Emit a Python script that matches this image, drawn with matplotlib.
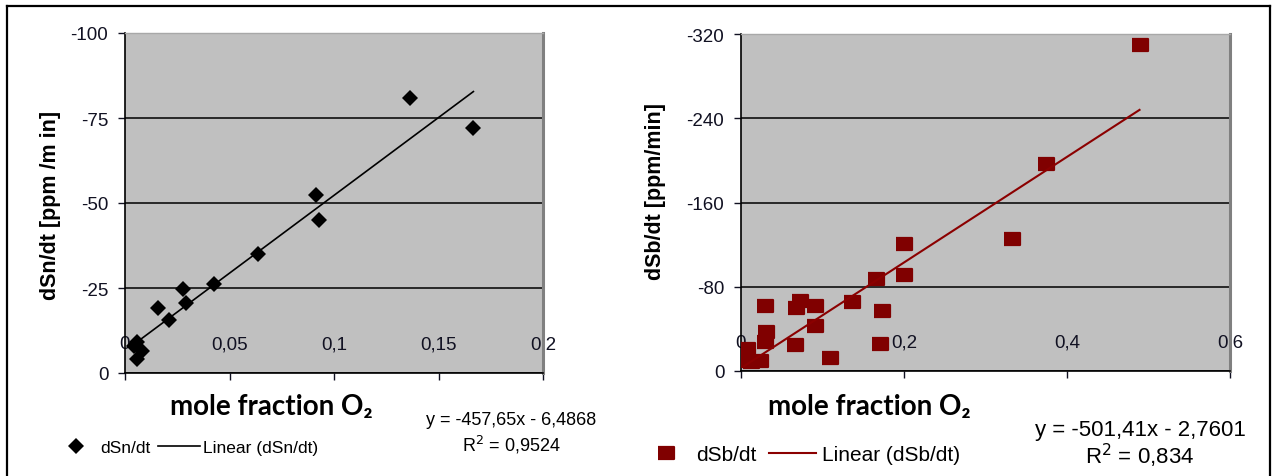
import matplotlib
matplotlib.use("Agg")
import matplotlib.pyplot as plt
from matplotlib.lines import Line2D
from matplotlib.markers import MarkerStyle
import numpy as np

# --- data ---
x_sn = [0.0045, 0.0056, 0.0080, 0.0056, 0.0159, 0.0211, 0.0276, 0.0292,
        0.0426, 0.0638, 0.0914, 0.0928, 0.1364, 0.1667]
y_sn = [-8.0, -9.0, -6.6, -4.1, -19.0, -15.5, -24.7, -20.5,
        -26.2, -35.0, -52.4, -45.0, -80.8, -72.1]
sn_slope, sn_icpt = -457.65, -6.4868
sn_yticks = [0, -25, -50, -75, -100]
sn_xticks = [0, 0.05, 0.1, 0.15, 0.2]

x_sb = [0.489, 0.374, 0.333, 0.200, 0.200, 0.166, 0.136, 0.173, 0.072,
        0.068, 0.091, 0.029, 0.091, 0.031, 0.029, 0.066, 0.170, 0.109,
        0.007, 0.003, 0.012, 0.023]
y_sb = [-309.6, -196.2, -125.1, -120.7, -91.6, -87.8, -65.5, -56.5, -66.8,
        -59.5, -61.4, -61.6, -42.8, -36.7, -27.8, -24.7, -25.8, -12.0,
        -20.9, -9.8, -8.6, -9.8]
sb_slope, sb_icpt = -501.41, -2.7601
sb_yticks = [0, -80, -160, -240, -320]
sb_xticks = [0, 0.2, 0.4, 0.6]

W, H = 1276, 477
fig = plt.figure(figsize=(W / 100, H / 100), dpi=100)
plt.rcParams['font.family'] = ['Liberation Sans', 'DejaVu Sans']


def fx(px):
    return px / W


def fy(py):
    return 1 - py / H


def dec(v):
    return ('%g' % v).replace('.', ',')


def setup(ax, xmax, ylo, yticks, xticks, ylab, ylab_x, ylab_y, ylab_fs):
    ax.set_facecolor('#C0C0C0')
    ax.set_xlim(0, xmax)
    ax.set_ylim(0, ylo)
    ax.set_yticks(yticks)
    ax.set_yticklabels([dec(v) for v in yticks])
    ax.set_xticks(xticks)
    ax.set_xticklabels([dec(v) for v in xticks])
    ax.yaxis.grid(True, color='black', lw=1.1)
    ax.set_axisbelow(True)
    for s in ['left', 'bottom']:
        ax.spines[s].set_color('black')
        ax.spines[s].set_linewidth(1.2)
    ax.spines['top'].set_color('#A8A8A8')
    ax.spines['top'].set_linewidth(1)
    ax.spines['right'].set_color('#808080')
    ax.spines['right'].set_linewidth(2.2)
    ax.tick_params(axis='y', direction='out', length=5, width=1, pad=7,
                   labelsize=13.5, colors='#111122')
    ax.tick_params(axis='x', direction='out', length=5, width=1, pad=-32,
                   labelsize=13.5, colors='#111122')
    fig.text(fx(ylab_x), fy(ylab_y), ylab, rotation=90, ha='center',
             va='center', fontsize=ylab_fs, fontweight='bold')


# left panel
ax1 = fig.add_axes([fx(125), fy(374), fx(543) - fx(125), fy(34) - fy(374)])
setup(ax1, 0.2, -100, sn_yticks, sn_xticks, 'dSn/dt [ppm /m in]', 51, 205, 15.5)
ax1.plot(x_sn, y_sn, ls='none', marker='D', ms=8, mew=0, color='black',
         label='dSn/dt', zorder=3)
xs = np.array([min(x_sn), max(x_sn)])
ax1.plot(xs, sn_slope * xs + sn_icpt, color='black', lw=1.2,
         label='Linear (dSn/dt)', zorder=4)

# right panel
ax2 = fig.add_axes([fx(741), fy(372), fx(1230) - fx(741), fy(35) - fy(372)])
setup(ax2, 0.6, -320, sb_yticks, sb_xticks, 'dSb/dt [ppm/min]', 656, 192, 15.5)
rect = MarkerStyle([(-0.65, -0.5), (0.65, -0.5), (0.65, 0.5), (-0.65, 0.5)],
                   joinstyle='round')
ax2.plot(x_sb, y_sb, ls='none', marker=rect, ms=11, mew=1.6,
         color='#800000', mec='#800000', label='dSb/dt', zorder=3)
xs = np.array([min(x_sb), max(x_sb)])
ax2.plot(xs, sb_slope * xs + sb_icpt, color='#8B0000', lw=1.5,
         label='Linear (dSb/dt)', zorder=4)

# x axis titles
for cx in (271, 869):
    fig.text(fx(cx), fy(407), 'mole fraction O\u2082', ha='center', va='center',
             fontsize=20, fontweight='bold', family=['Lato', 'DejaVu Sans'])

# trend equations
fig.text(fx(511), fy(421), 'y = -457,65x - 6,4868', ha='center', va='center',
         fontsize=13)
fig.text(fx(511), fy(445), 'R$^2$ = 0,9524', ha='center', va='center',
         fontsize=13)
fig.text(fx(1140), fy(431), 'y = -501,41x - 2,7601', ha='center', va='center',
         fontsize=16)
fig.text(fx(1140), fy(456), 'R$^2$ = 0,834', ha='center', va='center',
         fontsize=16)

# legends
h1, l1 = ax1.get_legend_handles_labels()
fig.legend(h1, l1, loc='center left', bbox_to_anchor=(fx(55), fy(448)),
           ncol=2, frameon=False, fontsize=12.5, handlelength=2.4,
           handletextpad=0.2, columnspacing=0.45, borderpad=0,
           borderaxespad=0, numpoints=1)
h2, l2 = ax2.get_legend_handles_labels()
fig.legend(h2, l2, loc='center left', bbox_to_anchor=(fx(643), fy(456)),
           ncol=2, frameon=False, fontsize=15, handlelength=2.25,
           handletextpad=0.3, columnspacing=0.6, borderpad=0,
           borderaxespad=0, numpoints=1)

# outer frame
fig.add_artist(Line2D([fx(7), fx(7)], [0, fy(7)], color='black', lw=1.6))
fig.add_artist(Line2D([fx(7), fx(1270)], [fy(7), fy(7)], color='black', lw=1.6))
fig.add_artist(Line2D([fx(1270), fx(1270)], [0, fy(7)], color='black', lw=1.6))

fig.savefig('out.png', dpi=100)
